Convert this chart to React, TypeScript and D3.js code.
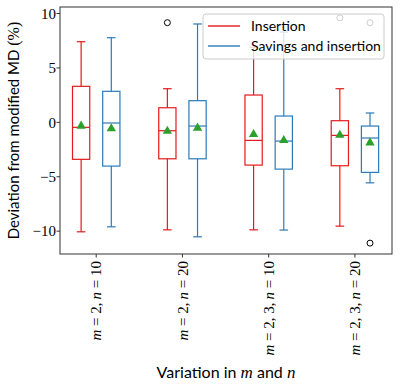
import React from "react";
import * as d3 from "d3";

const categories = [
  { m: "2", n: "10" },
  { m: "2", n: "20" },
  { m: "2, 3", n: "10" },
  { m: "2, 3", n: "20" },
];
const seriesNames = ["Insertion", "Savings and insertion"];
const seriesColors = ["#e41a1c", "#2b7bba"];

// [whiskerLow, q1, median, q3, whiskerHigh, mean]
const insertionStats = [
  [-10.06, -3.4, -0.46, 3.31, 7.41, -0.33],
  [-9.88, -3.35, -0.77, 1.34, 3.09, -0.8],
  [-9.88, -3.93, -1.66, 2.51, 6.9, -1.1],
  [-9.54, -3.99, -1.2, 0.15, 3.09, -1.17],
];
const insertionOutliers = [[], [9.16], [], [9.6]];
const savingsStats = [
  [-9.6, -4.02, -0.06, 2.85, 7.78, -0.57],
  [-10.52, -3.35, -0.34, 1.99, 9.04, -0.52],
  [-9.9, -4.3, -1.72, 0.58, 8.3, -1.66],
  [-5.56, -4.6, -1.44, -0.34, 0.86, -1.87],
];
const savingsOutliers = [[], [], [], [9.16, -11.1]];
const yTicks = [10, 5, 0, -5, -10];

const W = 399, H = 389;
const left = 60, right = 392, top = 7, bottom = 254;

export default function App() {
  const x = d3.scaleLinear().domain([-0.42, 3.43]).range([left, right]);
  const y = d3.scaleLinear().domain([-12.1, 10.6]).range([bottom, top]);
  const boxW = x(0.2) - x(0);
  const offset = x(0.175) - x(0);
  const serif = "'Liberation Serif', 'DejaVu Serif', serif";
  const sans = "Lato, 'Open Sans', sans-serif";

  const series = [
    { stats: insertionStats, outliers: insertionOutliers, dx: -offset, color: seriesColors[0] },
    { stats: savingsStats, outliers: savingsOutliers, dx: offset, color: seriesColors[1] },
  ];

  const tri = d3.symbol().type(d3.symbolTriangle).size(38)();

  return (
    <svg width={W} height={H} style={{ position: "absolute", left: 0, top: 0, background: "#fff" }}>
      {series.map((s, si) =>
        s.stats.map((st, i) => {
          const cx = x(i) + s.dx;
          const [lo, q1, med, q3, hi, mean] = st;
          return (
            <g key={`${si}-${i}`} stroke={s.color} strokeWidth={1.2} fill="none">
              <line x1={cx} x2={cx} y1={y(hi)} y2={y(q3)} />
              <line x1={cx} x2={cx} y1={y(q1)} y2={y(lo)} />
              <line x1={cx - boxW / 4} x2={cx + boxW / 4} y1={y(hi)} y2={y(hi)} />
              <line x1={cx - boxW / 4} x2={cx + boxW / 4} y1={y(lo)} y2={y(lo)} />
              <rect x={cx - boxW / 2} y={y(q3)} width={boxW} height={y(q1) - y(q3)} />
              <line x1={cx - boxW / 2} x2={cx + boxW / 2} y1={y(med)} y2={y(med)} />
              <path d={tri || ""} transform={`translate(${cx},${y(mean)})`} fill="#2ca02c" stroke="none" />
              {s.outliers[i].map((o, k) => (
                <circle key={k} cx={cx} cy={y(o)} r={3} stroke="#000" strokeWidth={1} fill="none" />
              ))}
            </g>
          );
        })
      )}
      {/* axes frame */}
      <rect x={left} y={top} width={right - left} height={bottom - top} fill="none" stroke="#333" strokeWidth={1} />
      {yTicks.map((t) => (
        <g key={t}>
          <line x1={left - 3.5} x2={left} y1={y(t)} y2={y(t)} stroke="#333" />
          <text x={left - 4} y={y(t)} dy="0.35em" textAnchor="end" fontFamily={serif} fontSize={15}>
            {t < 0 ? `\u2212${Math.abs(t)}` : t}
          </text>
        </g>
      ))}
      {categories.map((c, i) => (
        <g key={i}>
          <line x1={x(i)} x2={x(i)} y1={bottom} y2={bottom + 3.5} stroke="#333" />
          <text
            transform={`translate(${x(i)},${bottom + 7}) rotate(-90)`}
            textAnchor="end"
            dy="0.35em"
            fontFamily={serif}
            fontSize={15}
          >
            <tspan fontStyle="italic">m</tspan>
            <tspan>{` = ${c.m},\u2009`}</tspan>
            <tspan fontStyle="italic">n</tspan>
            <tspan>{` = ${c.n}`}</tspan>
          </text>
        </g>
      ))}
      <text x={(left + right) / 2} y={378} textAnchor="middle" fontFamily={sans} fontSize={16}>
        Variation in <tspan fontFamily={serif} fontStyle="italic" fontSize={17}>m</tspan> and{" "}
        <tspan fontFamily={serif} fontStyle="italic" fontSize={17}>n</tspan>
      </text>
      <text
        transform={`translate(19,${(top + bottom) / 2}) rotate(-90)`}
        textAnchor="middle"
        fontFamily={sans}
        fontSize={15}
      >
        Deviation from modified MD <tspan fontFamily={serif} fontSize={16}>(%)</tspan>
      </text>
      {/* legend */}
      <g>
        <rect x={203} y={14} width={181} height={45} rx={3} fill="#fff" fillOpacity={0.8} stroke="#ccc" strokeWidth={1} />
        {seriesNames.map((n, i) => (
          <g key={n}>
            <line x1={208} x2={240} y1={26 + i * 20} y2={26 + i * 20} stroke={seriesColors[i]} strokeWidth={1.4} />
            <text x={251} y={26 + i * 20} dy="0.35em" fontFamily={sans} fontSize={14}>
              {n}
            </text>
          </g>
        ))}
      </g>
    </svg>
  );
}
